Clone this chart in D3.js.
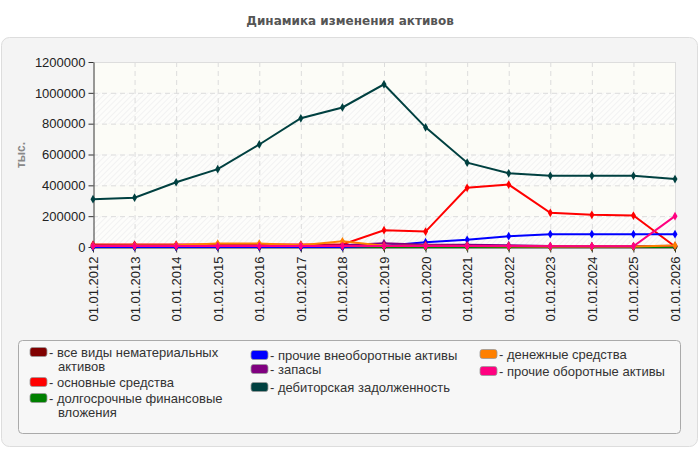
<!DOCTYPE html>
<html>
<head>
<meta charset="utf-8">
<script src="https://cdn.jsdelivr.net/npm/d3@7"></script>
<style>
  body { margin: 0; background: #fff; }
  svg { font-family: "Liberation Sans", Arial, sans-serif; }
</style>
</head>
<body>
<div id="chart"></div>
<script>
const years = ["01.01.2012", "01.01.2013", "01.01.2014", "01.01.2015", "01.01.2016",
  "01.01.2017", "01.01.2018", "01.01.2019", "01.01.2020", "01.01.2021",
  "01.01.2022", "01.01.2023", "01.01.2024", "01.01.2025", "01.01.2026"];

const yTicks = [0, 200000, 400000, 600000, 800000, 1000000, 1200000];

const intangibles = [1000, 1000, 1000, 1000, 1000, 1000, 2000, 2000, 2000, 2000, 1000, 1000, 1000, 1000, 1000];
const fixedAssets = [16000, 16000, 16000, 16000, 16000, 16000, 17000, 109000, 100000, 384000, 405000, 222000, 209000, 204000, 3000];
const longTermInv = [0, 0, 0, 0, 0, 0, 0, 0, 0, 0, 0, 0, 0, 0, 0];
const otherNonCurrent = [0, 0, 0, 0, 0, 0, 0, 8000, 31000, 47000, 70000, 83000, 83000, 83000, 83000];
const inventory = [10000, 10000, 10000, 10000, 10000, 10000, 12000, 25000, 15000, 15000, 12000, 6000, 5000, 5000, 8000];
const receivables = [310000, 320000, 420000, 505000, 665000, 835000, 905000, 1055000, 776000, 547000, 478000, 462000, 462000, 462000, 441000];
const cash = [8000, 9000, 12000, 22000, 22000, 12000, 37000, 8000, 8000, 6000, 5000, 4000, 4000, 4000, 10000];
const otherCurrent = [6000, 6000, 6000, 6000, 6000, 6000, 6000, 6000, 6000, 6000, 6000, 5000, 5000, 5000, 200000];

const series = [
  { name: "все виды нематериальных активов", color: "#800000", values: intangibles },
  { name: "основные средства", color: "#ff0000", values: fixedAssets },
  { name: "долгосрочные финансовые вложения", color: "#008000", values: longTermInv },
  { name: "прочие внеоборотные активы", color: "#0000ff", values: otherNonCurrent },
  { name: "запасы", color: "#800080", values: inventory },
  { name: "дебиторская задолженность", color: "#004040", values: receivables },
  { name: "денежные средства", color: "#ff8000", values: cash },
  { name: "прочие оборотные активы", color: "#ff0080", values: otherCurrent }
];

const width = 700, height = 450;
const plot = { left: 93, right: 675, top: 62, bottom: 247 };

const svg = d3.select("#chart").append("svg")
  .attr("width", width)
  .attr("height", height);

// hatch pattern for plot bands
const defs = svg.append("defs");
const pat = defs.append("pattern")
  .attr("id", "hatch")
  .attr("patternUnits", "userSpaceOnUse")
  .attr("width", 4).attr("height", 4)
  .attr("patternTransform", "rotate(45)");
pat.append("rect").attr("width", 4).attr("height", 4).attr("fill", "#fdfdfb");
pat.append("line").attr("x1", 0).attr("y1", 0).attr("x2", 0).attr("y2", 4)
  .attr("stroke", "#ececec").attr("stroke-width", 1.2);

// title
svg.append("text")
  .attr("x", 350).attr("y", 25)
  .attr("text-anchor", "middle")
  .attr("font-family", "\"DejaVu Sans\", Verdana, sans-serif")
  .attr("font-size", 12)
  .attr("font-weight", "bold")
  .attr("fill", "#555")
  .text("Динамика изменения активов");

// panel
svg.append("rect")
  .attr("x", 1.5).attr("y", 37.5)
  .attr("width", 696).attr("height", 409)
  .attr("rx", 8)
  .attr("fill", "#f4f4f4")
  .attr("stroke", "#dddddd");

const x = d3.scalePoint().domain(years).range([plot.left, plot.right]);
const y = d3.scaleLinear().domain([0, 1200000]).range([plot.bottom, plot.top]);

// background bands
const bands = d3.range(yTicks.length - 1);
svg.append("g").selectAll("rect")
  .data(bands)
  .join("rect")
  .attr("x", plot.left)
  .attr("width", plot.right - plot.left)
  .attr("y", i => y(yTicks[i + 1]))
  .attr("height", i => y(yTicks[i]) - y(yTicks[i + 1]))
  .attr("fill", i => i % 2 === 0 ? "url(#hatch)" : "#fcfcf7");

// grid
const grid = svg.append("g")
  .attr("stroke", "#dcdcdc")
  .attr("stroke-dasharray", "5,4");
grid.selectAll(".h")
  .data(yTicks.slice(1))
  .join("line")
  .attr("x1", plot.left).attr("x2", plot.right)
  .attr("y1", d => y(d) + 0.5).attr("y2", d => y(d) + 0.5);
grid.selectAll(".v")
  .data(years.slice(1))
  .join("line")
  .attr("x1", d => x(d) + 0.5).attr("x2", d => x(d) + 0.5)
  .attr("y1", plot.top).attr("y2", plot.bottom);

// plot border top/right
svg.append("path")
  .attr("d", `M${plot.left},${plot.top + 0.5}H${plot.right + 0.5}V${plot.bottom}`)
  .attr("fill", "none")
  .attr("stroke", "#dddddd");

// y axis
const yAxis = svg.append("g")
  .attr("transform", `translate(${plot.left + 0.5},0)`)
  .call(d3.axisLeft(y).tickValues(yTicks).tickSize(5).tickSizeOuter(0).tickFormat(d3.format("d")));
yAxis.select(".domain").attr("stroke", "#333");
yAxis.selectAll(".tick line").attr("stroke", "#333");
yAxis.selectAll("text")
  .attr("font-size", 13)
  .attr("fill", "#222")
  .attr("font-family", "\"Liberation Sans\", Arial, sans-serif")
  .attr("x", -8);

// x axis
const xAxis = svg.append("g")
  .attr("transform", `translate(0,${plot.bottom + 0.5})`)
  .call(d3.axisBottom(x).tickSize(5).tickSizeOuter(0));
xAxis.select(".domain").attr("stroke", "#333");
xAxis.selectAll(".tick line").attr("stroke", "#333");
xAxis.selectAll("text")
  .attr("font-size", 13)
  .attr("fill", "#222")
  .attr("font-family", "\"Liberation Sans\", Arial, sans-serif")
  .attr("transform", "rotate(-90)")
  .attr("text-anchor", "end")
  .attr("x", -9)
  .attr("y", 0)
  .attr("dy", "0.35em");

// y label
svg.append("text")
  .attr("transform", "translate(25,155) rotate(-90)")
  .attr("text-anchor", "middle")
  .attr("font-size", 12)
  .attr("font-weight", "bold")
  .attr("fill", "#888")
  .text("тыс.");

// lines
const line = d3.line()
  .x((d, i) => x(years[i]))
  .y(d => y(d));

const lines = svg.append("g");
series.forEach(s => {
  lines.append("path")
    .datum(s.values)
    .attr("d", line)
    .attr("fill", "none")
    .attr("stroke", s.color)
    .attr("stroke-width", 2);
  lines.append("g").selectAll("path")
    .data(s.values)
    .join("path")
    .attr("transform", (d, i) => `translate(${x(years[i])},${y(d)})`)
    .attr("d", d3.symbol(d3.symbolDiamond, 22))
    .attr("fill", s.color);
});

// legend
const legend = svg.append("g");
legend.append("rect")
  .attr("x", 18.5).attr("y", 340.5)
  .attr("width", 662).attr("height", 93)
  .attr("rx", 4)
  .attr("fill", "#f7f7f7")
  .attr("stroke", "#aaaaaa");

const legendItems = [
  { s: 0, x: 30, y: 352, lines: ["- все виды нематериальных", "активов"] },
  { s: 1, x: 30, y: 382, lines: ["- основные средства"] },
  { s: 2, x: 30, y: 398, lines: ["- долгосрочные финансовые", "вложения"] },
  { s: 3, x: 251, y: 355, lines: ["- прочие внеоборотные активы"] },
  { s: 4, x: 251, y: 369, lines: ["- запасы"] },
  { s: 5, x: 251, y: 387, lines: ["- дебиторская задолженность"] },
  { s: 6, x: 480, y: 354, lines: ["- денежные средства"] },
  { s: 7, x: 480, y: 371, lines: ["- прочие оборотные активы"] }
];

legendItems.forEach(it => {
  const s = series[it.s];
  legend.append("rect")
    .attr("x", it.x).attr("y", it.y - 4.5)
    .attr("width", 17).attr("height", 9)
    .attr("rx", 2.5)
    .attr("fill", s.color)
    .attr("stroke", "#999")
    .attr("stroke-width", 0.8);
  it.lines.forEach((t, k) => {
    legend.append("text")
      .attr("x", k === 0 ? it.x + 19 : it.x + 28)
      .attr("y", it.y + k * 14.5)
      .attr("dy", "0.35em")
      .attr("font-size", 13)
      .attr("fill", "#333")
      .text(t);
  });
});
</script>
</body>
</html>
